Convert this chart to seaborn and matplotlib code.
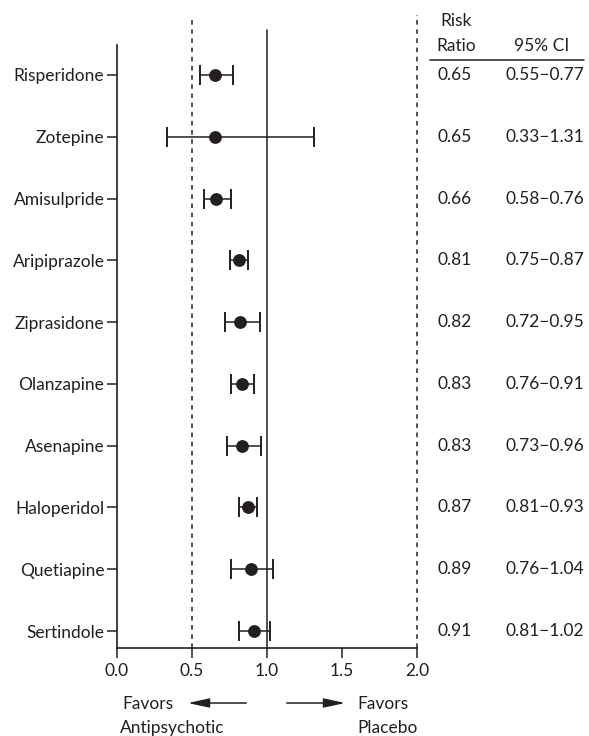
import matplotlib
matplotlib.use("Agg")
import matplotlib.pyplot as plt
import seaborn as sns
import pandas as pd

drugs = ["Risperidone", "Zotepine", "Amisulpride", "Aripiprazole", "Ziprasidone",
         "Olanzapine", "Asenapine", "Haloperidol", "Quetiapine", "Sertindole"]
rr = [0.65, 0.65, 0.66, 0.81, 0.82, 0.83, 0.83, 0.87, 0.89, 0.91]
lo = [0.55, 0.33, 0.58, 0.75, 0.72, 0.76, 0.73, 0.81, 0.76, 0.81]
hi = [0.77, 1.31, 0.76, 0.87, 0.95, 0.91, 0.96, 0.93, 1.04, 1.02]
xticks = [0.0, 0.5, 1.0, 1.5, 2.0]

sns.set_style("white")
plt.rcParams['font.family'] = ['Lato', 'DejaVu Sans']
FS = 12.5
INK = "#231f20"

df = pd.DataFrame({"drug": drugs, "rr": rr, "lo": lo, "hi": hi})
df["pos"] = range(len(drugs))

W, H = 589, 736
fig = plt.figure(figsize=(W / 100, H / 100), dpi=100)
left_px, right_px, top_px, bot_px = 117, 417, 45, 648
ax = fig.add_axes([left_px / W, 1 - bot_px / H, (right_px - left_px) / W, (bot_px - top_px) / H])

row0, row9 = 75, 631
sp = (row9 - row0) / 9
ytop = -(row0 - top_px) / sp
ybot = 9 + (bot_px - row9) / sp

def py(p):
    return (p - row0) / sp

ax.errorbar(df["rr"], df["pos"],
            xerr=[df["rr"] - df["lo"], df["hi"] - df["rr"]],
            fmt="none", ecolor=INK, elinewidth=1.1, capsize=7, capthick=1.4, zorder=3)
sns.scatterplot(data=df, x="rr", y="pos", ax=ax, s=85, color=INK,
                edgecolor=INK, linewidth=0, zorder=4, legend=False)

ax.set_xlim(0, 2)
ax.set_ylim(ybot, ytop)
ax.set_xticks(xticks)
ax.set_xticklabels([f"{t:.1f}" for t in xticks], fontsize=FS)
ax.set_yticks(df["pos"])
ax.set_yticklabels(drugs, fontsize=FS)
ax.set_xlabel("")
ax.set_ylabel("")
ax.tick_params(axis="both", direction="out", length=7, width=1.1, color=INK,
               labelcolor=INK, left=True, bottom=True)
ax.tick_params(axis="y", pad=2)
ax.tick_params(axis="x", pad=4)
for s in ["top", "right"]:
    ax.spines[s].set_visible(False)
for s in ["left", "bottom"]:
    ax.spines[s].set_color(INK)
    ax.spines[s].set_linewidth(1.2)

# reference lines
ax.plot([1, 1], [ybot, py(30)], color=INK, lw=1.1, clip_on=False, zorder=2)
ax.plot([0.5, 0.5], [ybot, py(17)], color=INK, lw=1.1, ls=(0, (3, 3)), clip_on=False, zorder=2)
ax.plot([2.0, 2.0], [ybot, py(15)], color=INK, lw=1.1, ls=(0, (3, 3)), clip_on=False, zorder=2)

def px(x):
    return (x - left_px) / 150.0

# table
ax.text(px(456), py(21), "Risk", ha="center", va="center", fontsize=FS, color=INK, clip_on=False)
ax.text(px(456), py(46), "Ratio", ha="center", va="center", fontsize=FS, color=INK, clip_on=False)
ax.text(px(542), py(46), "95% CI", ha="center", va="center", fontsize=FS, color=INK, clip_on=False)
ax.plot([px(430), px(584)], [py(60), py(60)], color=INK, lw=1.1, clip_on=False)
for i in range(len(drugs)):
    ax.text(px(455), i, f"{rr[i]:.2f}", ha="center", va="center", fontsize=FS, color=INK, clip_on=False)
    ax.text(px(545), i, f"{lo[i]:.2f}\u2212{hi[i]:.2f}", ha="center", va="center", fontsize=FS,
            color=INK, clip_on=False)

# favors annotations
fig.text(174 / W, 1 - 704 / H, "Favors", ha="right", va="center", fontsize=FS, color=INK)
fig.text(172 / W, 1 - 728 / H, "Antipsychotic", ha="center", va="center", fontsize=FS, color=INK)
fig.text(357 / W, 1 - 704 / H, "Favors", ha="left", va="center", fontsize=FS, color=INK)
fig.text(357 / W, 1 - 728 / H, "Placebo", ha="left", va="center", fontsize=FS, color=INK)
fig.patches.append(matplotlib.patches.FancyArrowPatch(
    (249 / W, 1 - 703 / H), (185 / W, 1 - 703 / H), transform=fig.transFigure,
    arrowstyle="-|>,head_length=13,head_width=2.8", color=INK, lw=1.1, mutation_scale=1))
fig.patches.append(matplotlib.patches.FancyArrowPatch(
    (284 / W, 1 - 703 / H), (348 / W, 1 - 703 / H), transform=fig.transFigure,
    arrowstyle="-|>,head_length=13,head_width=2.8", color=INK, lw=1.1, mutation_scale=1))

fig.savefig("out.png", dpi=100, facecolor="white")
